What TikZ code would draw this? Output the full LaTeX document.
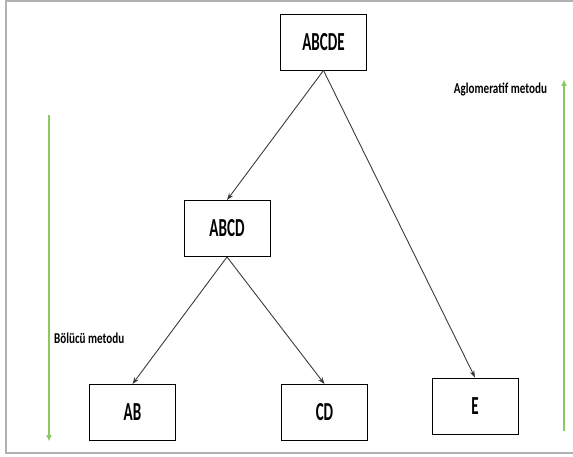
\documentclass[tikz,border=0pt]{standalone}
\usepackage{fontspec}
\setmainfont{Carlito}
\usetikzlibrary{arrows.meta}
\definecolor{framegray}{RGB}{178,178,178}
\definecolor{arrowgreen}{RGB}{140,200,95}
\definecolor{edgegray}{RGB}{60,60,60}
\newcommand{\boxtext}[1]{\scalebox{0.58}[1]{\fontsize{26}{26}\selectfont\bfseries #1}}
\newcommand{\labtext}[1]{\scalebox{0.74}[1]{\fontsize{15}{15}\selectfont\bfseries #1}}
\begin{document}
\begin{tikzpicture}[x=1pt,y=-1pt,
  cluster/.style={draw=black, line width=0.9pt, fill=white, minimum width=86pt, minimum height=56pt, inner sep=0pt},
  link/.style={draw=edgegray, line width=0.9pt, -{Stealth[length=7pt,width=5pt]}},
  flow/.style={draw=arrowgreen, line width=1.6pt, -{Triangle[length=6pt,width=5pt]}},
  lab/.style={inner sep=0pt}]
\useasboundingbox (0,0) rectangle (573,457);
\fill[white] (0,0) rectangle (573,457);
\draw[framegray, line width=2pt] (573,1) -- (6,1) -- (6,453) -- (573,453);

\node[cluster] (abcde) at (323.5,42) {\boxtext{ABCDE}};
\node[cluster] (abcd) at (227,228.5) {\boxtext{ABCD}};
\node[cluster] (ab) at (132.5,412.5) {\boxtext{AB}};
\node[cluster] (cd) at (324.5,412.5) {\boxtext{CD}};
\node[cluster] (e) at (475,406) {\boxtext{E}};

\draw[link] (abcde.south) -- (abcd.north);
\draw[link] (abcde.south) -- (e.north);
\draw[link] (abcd.south) -- (ab.north);
\draw[link] (abcd.south) -- (cd.north);

\coordinate (dtop) at (49,115);
\coordinate (dbot) at (49,441);
\draw[flow] (dtop) -- (dbot);
\coordinate (utop) at (564,80);
\coordinate (ubot) at (564,431);
\draw[flow] (ubot) -- (utop);

\node[lab, anchor=west] (blab) at (54,338) {\labtext{Bölücü metodu}};
\node[lab] (alab) at (500.5,89) {\labtext{Aglomeratif metodu}};
\end{tikzpicture}
\end{document}
